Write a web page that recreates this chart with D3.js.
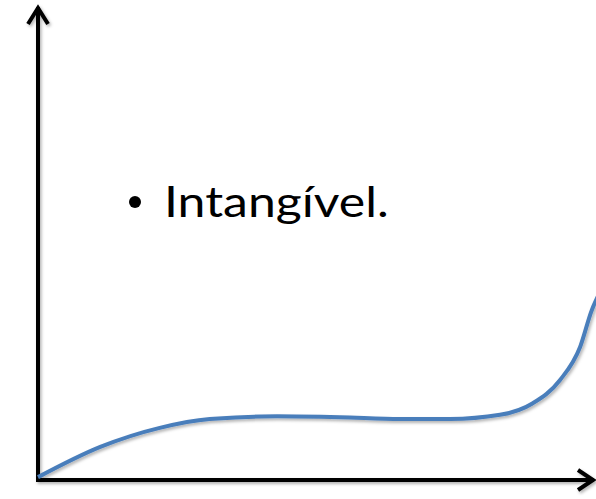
<!DOCTYPE html>
<html>
<head>
<meta charset="utf-8">
<script src="https://cdn.jsdelivr.net/npm/d3@7"></script>
<style>
  html, body { margin: 0; padding: 0; background: #fff; }
  svg { display: block; }
</style>
</head>
<body>
<svg id="chart" width="596" height="499"></svg>
<script>
// curve (0..100 on both axes)
var curveX = [0, 11.2, 21.9, 30.9, 43.0, 54.3, 65.1, 74.1, 83.1, 89.0, 93.9, 97.5, 99.6, 101];
var curveY = [0.4, 6.9, 11.0, 12.9, 13.5, 13.3, 12.9, 12.9, 13.8, 16.3, 21.3, 28.4, 36.3, 40];
var bulletText = ["Intangível."];

var width = 596, height = 499;
var svg = d3.select("#chart");

var x = d3.scaleLinear().domain([0, 100]).range([38, 594]);
var y = d3.scaleLinear().domain([0, 100]).range([479, 14]);

// soft shadow like the slide
var defs = svg.append("defs");
var f = defs.append("filter").attr("id", "shadow")
  .attr("x", "-10%").attr("y", "-10%").attr("width", "130%").attr("height", "130%");
f.append("feDropShadow")
  .attr("dx", 1.5).attr("dy", 2).attr("stdDeviation", 1.5)
  .attr("flood-color", "#000").attr("flood-opacity", 0.3);

// axes
var axes = svg.append("g").attr("filter", "url(#shadow)")
  .style("stroke", "#000").style("stroke-width", 4).style("fill", "none");
axes.append("line")
  .attr("x1", x(0)).attr("y1", y(0) + 2)
  .attr("x2", x(0)).attr("y2", 7);
axes.append("line")
  .attr("x1", x(0) - 2).attr("y1", y(0) + 1)
  .attr("x2", 594).attr("y2", y(0) + 1);
// arrow heads
axes.append("path")
  .attr("d", "M" + (x(0) - 10) + ",24 L" + x(0) + ",8 L" + (x(0) + 10) + ",24")
  .style("stroke-linejoin", "miter");
axes.append("path")
  .attr("d", "M578," + (y(0) - 9) + " L593," + (y(0) + 1) + " L578," + (y(0) + 11))
  .style("stroke-linejoin", "miter");

// curve
var line = d3.line()
  .x(function (d) { return x(d[0]); })
  .y(function (d) { return y(d[1]); })
  .curve(d3.curveMonotoneX);
var pts = curveX.map(function (v, i) { return [v, curveY[i]]; });
svg.append("path")
  .datum(pts)
  .attr("d", line)
  .attr("filter", "url(#shadow)")
  .style("fill", "none")
  .style("stroke", "#4a7ebb")
  .style("stroke-width", 4);

// bullet text (slide image is a bit stretched sideways)
svg.append("circle")
  .attr("cx", 135).attr("cy", 202).attr("r", 6)
  .style("fill", "#000");
svg.append("text")
  .attr("transform", "translate(164,217) scale(1.19,1)")
  .style("font-family", "Lato, 'Open Sans', sans-serif")
  .style("font-size", "42px")
  .style("fill", "#000")
  .text(bulletText[0]);
</script>
</body>
</html>
